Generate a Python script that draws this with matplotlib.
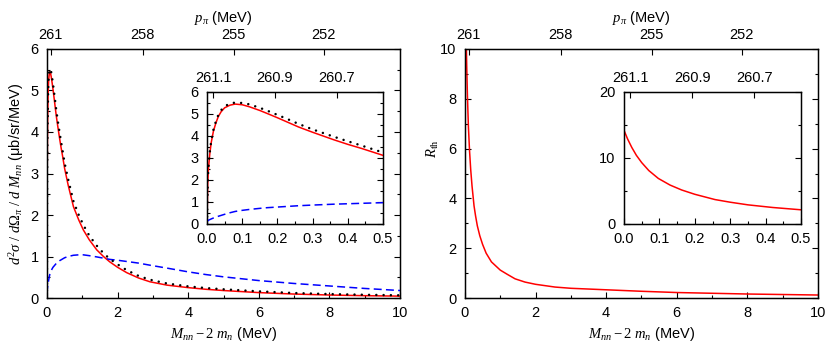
import numpy as np
import matplotlib
matplotlib.use("Agg")
import matplotlib.pyplot as plt
from matplotlib.ticker import MultipleLocator

matplotlib.rcParams['font.family'] = ['Liberation Sans', 'DejaVu Sans']
matplotlib.rcParams['mathtext.fontset'] = 'custom'
matplotlib.rcParams['mathtext.it'] = 'Liberation Serif:italic'
matplotlib.rcParams['mathtext.rm'] = 'Liberation Serif'
matplotlib.rcParams['font.size'] = 10.5

# M_nn - 2 m_n (MeV)
m_x = [0, 0.002, 0.004, 0.008, 0.012, 0.018, 0.025, 0.032, 0.04, 0.05, 0.065, 0.08,
       0.1, 0.12, 0.15, 0.17, 0.2, 0.23, 0.26, 0.3, 0.36, 0.4, 0.44, 0.5, 0.6, 0.75,
       0.9, 1.03, 1.2, 1.41, 1.6, 1.78, 2.0, 2.26, 2.6, 2.92, 3.4, 4, 4.5, 5, 6, 7, 8, 9, 10]
# cross section, full (red), dotted (black), dashed (blue)
xs_full = [0, 1.8, 2.5, 3.2, 3.7, 4.2, 4.58, 4.88, 5.1, 5.28, 5.4, 5.45,
           5.42, 5.33, 5.16, 5.03, 4.83, 4.62, 4.41, 4.17, 3.83, 3.62, 3.43, 3.12, 2.72, 2.2,
           1.88, 1.64, 1.4, 1.16, 1.0, 0.87, 0.74, 0.61, 0.48, 0.39, 0.31, 0.25, 0.21, 0.18,
           0.13, 0.095, 0.072, 0.056, 0.045]
xs_dot = [0, 1.85, 2.55, 3.28, 3.78, 4.27, 4.65, 4.95, 5.17, 5.35, 5.47, 5.52,
          5.5, 5.44, 5.28, 5.16, 4.96, 4.76, 4.55, 4.3, 3.97, 3.76, 3.56, 3.25, 2.86, 2.33,
          2.0, 1.76, 1.5, 1.26, 1.08, 0.94, 0.81, 0.67, 0.53, 0.44, 0.35, 0.28, 0.24, 0.21,
          0.16, 0.12, 0.095, 0.078, 0.065]
xs_dash = [0.1, 0.14, 0.17, 0.2, 0.23, 0.27, 0.31, 0.35, 0.39, 0.44, 0.51, 0.57,
           0.62, 0.66, 0.71, 0.74, 0.77, 0.8, 0.83, 0.86, 0.9, 0.92, 0.94, 0.97, 1.0, 1.03,
           1.04, 1.04, 1.02, 0.99, 0.96, 0.93, 0.91, 0.88, 0.84, 0.79, 0.72, 0.63, 0.565, 0.51,
           0.42, 0.35, 0.29, 0.23, 0.18]

# R_th
r_x = [0, 0.01, 0.022, 0.035, 0.05, 0.07, 0.097, 0.13, 0.163, 0.2, 0.257, 0.3, 0.35,
       0.42, 0.5, 0.6, 0.75, 1.0, 1.2, 1.42, 1.7, 2.0, 2.55, 3.0, 4.0, 5, 6, 7, 8, 9, 10]
r_th = [14.2, 12.9, 11.6, 10.4, 9.3, 8.1, 6.9, 5.9, 5.15, 4.5, 3.7, 3.3, 2.9,
        2.5, 2.15, 1.8, 1.45, 1.12, 0.95, 0.77, 0.64, 0.55, 0.44, 0.39, 0.33, 0.27, 0.22,
        0.19, 0.16, 0.14, 0.12]

# pion momentum tick labels (top axes)
p_main = [261, 258, 255, 252]
p_inset = [261.1, 260.9, 260.7]


def p_to_m(p):
    # approximate kinematic relation p_pi(M) = p0 - a*M - b*M^2, inverted
    p0, a, b = 261.12, 1.14, 0.003
    p = np.asarray(p, dtype=float)
    return (-a + np.sqrt(a * a + 4 * b * (p0 - p))) / (2 * b)


def style(ax, xmaj, xmin, ymaj, ymin):
    ax.xaxis.set_major_locator(MultipleLocator(xmaj))
    ax.xaxis.set_minor_locator(MultipleLocator(xmin))
    ax.yaxis.set_major_locator(MultipleLocator(ymaj))
    ax.yaxis.set_minor_locator(MultipleLocator(ymin))
    ax.tick_params(which='both', direction='in', top=False, right=True, pad=6)
    ax.tick_params(which='major', length=4.5, width=0.8)
    ax.tick_params(which='minor', length=2.5, width=0.8)
    for s in ax.spines.values():
        s.set_linewidth(1.0)


def top_axis(ax, labels, xlabel=None, pad=5):
    tw = ax.twiny()
    tw.set_xlim(ax.get_xlim())
    tw.set_xticks(p_to_m(labels), [f"{v:g}" for v in labels])
    tw.xaxis.set_minor_locator(plt.NullLocator())
    tw.tick_params(direction='in', length=4.5, width=0.8, pad=pad)
    if xlabel:
        tw.set_xlabel(xlabel, labelpad=4)
    return tw


def draw_xs(ax):
    ax.plot(m_x, xs_full, color='red', lw=1.1, zorder=3)
    ax.plot(m_x, xs_dot, color='black', lw=1.8, linestyle=(0, (0.01, 2.9)),
            dash_capstyle='round', zorder=4)
    ax.plot(m_x, xs_dash, color='blue', lw=1.1, linestyle=(0, (5.2, 2.8)), zorder=3)


fig = plt.figure(figsize=(8.3, 3.47), dpi=100)

xlab = r"$M_{nn} - 2\ m_n$ (MeV)"

# left panel
ax1 = fig.add_axes([0.0566, 0.1412, 0.4254, 0.7176])
draw_xs(ax1)
ax1.set_xlim(0, 10)
ax1.set_ylim(0, 6)
style(ax1, 2, 1, 1, 0.5)
ax1.set_xlabel(xlab, labelpad=3)
ax1.set_ylabel(r"$d^2\sigma\ /\ d\Omega_\pi\ /\ d\ M_{nn}$ (μb/sr/MeV)", labelpad=3)
top_axis(ax1, p_main, r"$p_\pi$ (MeV)")

in1 = fig.add_axes([0.2494, 0.3545, 0.2120, 0.3804])
in1.set_facecolor('white')
draw_xs(in1)
in1.set_xlim(0, 0.5)
in1.set_ylim(0, 6)
style(in1, 0.1, 0.05, 1, 0.5)
top_axis(in1, p_inset)

# right panel
ax2 = fig.add_axes([0.5602, 0.1412, 0.4253, 0.7176])
ax2.plot(r_x, r_th, color='red', lw=1.1)
ax2.set_xlim(0, 10)
ax2.set_ylim(0, 10)
style(ax2, 2, 1, 2, 1)
ax2.set_xlabel(xlab, labelpad=3)
ax2.set_ylabel(r"$R_{\rm th}$")
ax2.yaxis.set_label_coords(-0.068, 0.6)
top_axis(ax2, p_main, r"$p_\pi$ (MeV)")

in2 = fig.add_axes([0.7518, 0.3545, 0.2133, 0.3804])
in2.set_facecolor('white')
in2.plot(r_x, r_th, color='red', lw=1.1)
in2.set_xlim(0, 0.5)
in2.set_ylim(0, 20)
style(in2, 0.1, 0.05, 10, 5)
top_axis(in2, p_inset)

fig.savefig("out.png", dpi=100)
